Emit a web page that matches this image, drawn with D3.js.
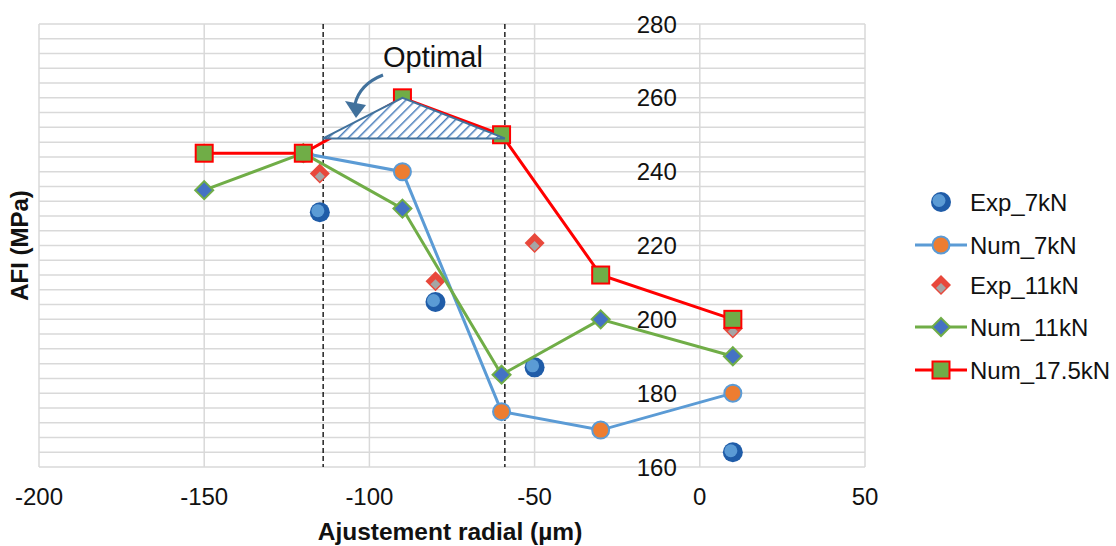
<!DOCTYPE html>
<html>
<head>
<meta charset="utf-8">
<script src="https://cdn.jsdelivr.net/npm/d3@7"></script>
<style>
  body { margin: 0; background: #fff; }
  text { font-family: "Liberation Sans", Arial, sans-serif; fill: #111; }
</style>
</head>
<body>
<div id="chart"></div>
<script>
// Chart data
const xTicks = [-200, -150, -100, -50, 0, 50];
const yTicks = [160, 180, 200, 220, 240, 260, 280];

const exp7 = [[-115, 229], [-80, 204.7], [-50, 187], [10, 164]];
const num7 = [[-120, 245], [-90, 240], [-60, 175], [-30, 170], [10, 180]];
const exp11 = [[-115, 239.5], [-80, 210.3], [-50, 220.7], [10, 197.5]];
const num11 = [[-150, 235], [-120, 245], [-90, 230], [-60, 185], [-30, 200], [10, 190]];
const num175 = [[-150, 245], [-120, 245], [-90, 260], [-60, 250], [-30, 212], [10, 200]];

const optimalLimits = [-114, -59];
const optimalZone = [[-114, 249], [-90, 260], [-59, 249]];

const legendNames = ["Exp_7kN", "Num_7kN", "Exp_11kN", "Num_11kN", "Num_17.5kN"];

const width = 1116;
const height = 546;

const svg = d3.select("#chart")
  .append("svg")
  .attr("width", width)
  .attr("height", height);

// hatch pattern for the optimal triangle
const defs = svg.append("defs");
const pat = defs.append("pattern")
  .attr("id", "hatch")
  .attr("patternUnits", "userSpaceOnUse")
  .attr("width", 7)
  .attr("height", 7)
  .attr("patternTransform", "rotate(45)");
pat.append("rect").attr("width", 7).attr("height", 7).attr("fill", "#fff");
pat.append("line")
  .attr("x1", 0).attr("y1", 0).attr("x2", 0).attr("y2", 7)
  .attr("stroke", "#4a7ebb").attr("stroke-width", 3);

const x = d3.scaleLinear().domain([-200, 50]).range([39, 865]);
const y = d3.scaleLinear().domain([160, 280]).range([467, 24]);

// gridlines
svg.append("g")
  .selectAll("line")
  .data(d3.range(160, 281, 4))
  .join("line")
  .attr("x1", x(-200)).attr("x2", x(50))
  .attr("y1", d => y(d)).attr("y2", d => y(d))
  .attr("stroke", "#d9d9d9").attr("stroke-width", 1.5);

svg.append("g")
  .selectAll("line")
  .data(xTicks)
  .join("line")
  .attr("x1", d => x(d)).attr("x2", d => x(d))
  .attr("y1", y(160)).attr("y2", y(280))
  .attr("stroke", "#d9d9d9").attr("stroke-width", 1.5);

// tick labels
svg.append("g")
  .selectAll("text")
  .data(xTicks)
  .join("text")
  .attr("x", d => x(d))
  .attr("y", 505)
  .attr("text-anchor", "middle")
  .attr("font-size", 24)
  .text(d => d);

svg.append("g")
  .selectAll("text")
  .data(yTicks)
  .join("text")
  .attr("x", x(0) - 23)
  .attr("y", d => y(d))
  .attr("dy", "0.36em")
  .attr("text-anchor", "end")
  .attr("font-size", 24)
  .text(d => d);

// axis titles
svg.append("text")
  .attr("transform", `translate(28, ${(y(160) + y(280)) / 2}) rotate(-90)`)
  .attr("text-anchor", "middle")
  .attr("font-size", 24)
  .attr("font-weight", "bold")
  .text("AFI (MPa)");

svg.append("text")
  .attr("x", 450)
  .attr("y", 540)
  .attr("text-anchor", "middle")
  .attr("font-size", 24.5)
  .attr("font-weight", "bold")
  .text("Ajustement radial (µm)");

// dashed limits
svg.append("g")
  .selectAll("line")
  .data(optimalLimits)
  .join("line")
  .attr("x1", d => x(d)).attr("x2", d => x(d))
  .attr("y1", y(280)).attr("y2", y(160))
  .attr("stroke", "#000").attr("stroke-width", 1.3)
  .attr("stroke-dasharray", "5,3");

const line = d3.line().x(d => x(d[0])).y(d => y(d[1]));

// markers
function expCircle(g, data) {
  g.selectAll(".o").data(data).join("circle")
    .attr("cx", d => x(d[0])).attr("cy", d => y(d[1])).attr("r", 10)
    .attr("fill", "#1f5ca8");
  g.selectAll(".i").data(data).join("circle")
    .attr("cx", d => x(d[0]) - 2).attr("cy", d => y(d[1]) - 1.5).attr("r", 6.5)
    .attr("fill", "#5b9bd5");
}
function expDiamond(g, data) {
  g.selectAll(".o").data(data).join("path")
    .attr("transform", d => `translate(${x(d[0])},${y(d[1])})`)
    .attr("d", "M0,-10L10,0L0,10L-10,0Z")
    .attr("fill", "#e8483b");
  g.selectAll(".i").data(data).join("path")
    .attr("transform", d => `translate(${x(d[0])},${y(d[1]) + 3})`)
    .attr("d", "M0,-5L5,0L0,5L-5,0Z")
    .attr("fill", "#a5a5a5");
}
function circleMarks(g, data) {
  g.selectAll("circle").data(data).join("circle")
    .attr("cx", d => x(d[0])).attr("cy", d => y(d[1])).attr("r", 8.5)
    .attr("fill", "#ed7d31").attr("stroke", "#5b9bd5").attr("stroke-width", 2);
}
function diamondMarks(g, data) {
  g.selectAll("path.m").data(data).join("path")
    .attr("class", "m")
    .attr("transform", d => `translate(${x(d[0])},${y(d[1])})`)
    .attr("d", "M0,-9L9,0L0,9L-9,0Z")
    .attr("fill", "#4472c4").attr("stroke", "#70ad47").attr("stroke-width", 2);
}
function squareMarks(g, data) {
  g.selectAll("rect").data(data).join("rect")
    .attr("x", d => x(d[0]) - 8.5).attr("y", d => y(d[1]) - 8.5)
    .attr("width", 17).attr("height", 17)
    .attr("fill", "#70ad47").attr("stroke", "#ff0000").attr("stroke-width", 2);
}

expCircle(svg.append("g"), exp7);

svg.append("path").datum(num7).attr("d", line)
  .attr("fill", "none").attr("stroke", "#5b9bd5").attr("stroke-width", 3);
circleMarks(svg.append("g"), num7);

expDiamond(svg.append("g"), exp11);

svg.append("path").datum(num11).attr("d", line)
  .attr("fill", "none").attr("stroke", "#70ad47").attr("stroke-width", 3);
diamondMarks(svg.append("g"), num11);

svg.append("path").datum(num175).attr("d", line)
  .attr("fill", "none").attr("stroke", "#ff0000").attr("stroke-width", 3);
squareMarks(svg.append("g"), num175);

// optimal zone
svg.append("path")
  .datum(optimalZone)
  .attr("d", d => line(d) + "Z")
  .attr("fill", "url(#hatch)")
  .attr("stroke", "#41719c")
  .attr("stroke-width", 2);

svg.append("text")
  .attr("x", 433)
  .attr("y", 67)
  .attr("text-anchor", "middle")
  .attr("font-size", 29)
  .text("Optimal");

// curved arrow
svg.append("path")
  .attr("d", "M383,75 Q360,84 355,104")
  .attr("fill", "none")
  .attr("stroke", "#41719c")
  .attr("stroke-width", 3);
svg.append("path")
  .attr("d", "M345,101 L366,105 L356,118 Z")
  .attr("fill", "#41719c");

// legend
const legend = svg.append("g");
const legendY = [202, 245, 285, 327, 370];
legendNames.forEach((name, i) => {
  const g = legend.append("g");
  const ly = legendY[i];
  const lx = 941;
  if (i === 1) {
    g.append("line").attr("x1", 915).attr("x2", 967).attr("y1", ly).attr("y2", ly)
      .attr("stroke", "#5b9bd5").attr("stroke-width", 3);
  } else if (i === 3) {
    g.append("line").attr("x1", 915).attr("x2", 967).attr("y1", ly).attr("y2", ly)
      .attr("stroke", "#70ad47").attr("stroke-width", 3);
  } else if (i === 4) {
    g.append("line").attr("x1", 915).attr("x2", 967).attr("y1", ly).attr("y2", ly)
      .attr("stroke", "#ff0000").attr("stroke-width", 3);
  }
  const xs = x.invert(lx), ys = y.invert(ly);
  if (i === 0) expCircle(g, [[xs, ys]]);
  if (i === 1) circleMarks(g, [[xs, ys]]);
  if (i === 2) expDiamond(g, [[xs, ys]]);
  if (i === 3) diamondMarks(g, [[xs, ys]]);
  if (i === 4) squareMarks(g, [[xs, ys]]);
  g.append("text")
    .attr("x", 970)
    .attr("y", ly)
    .attr("dy", "0.36em")
    .attr("font-size", 24)
    .text(name);
});
</script>
</body>
</html>
